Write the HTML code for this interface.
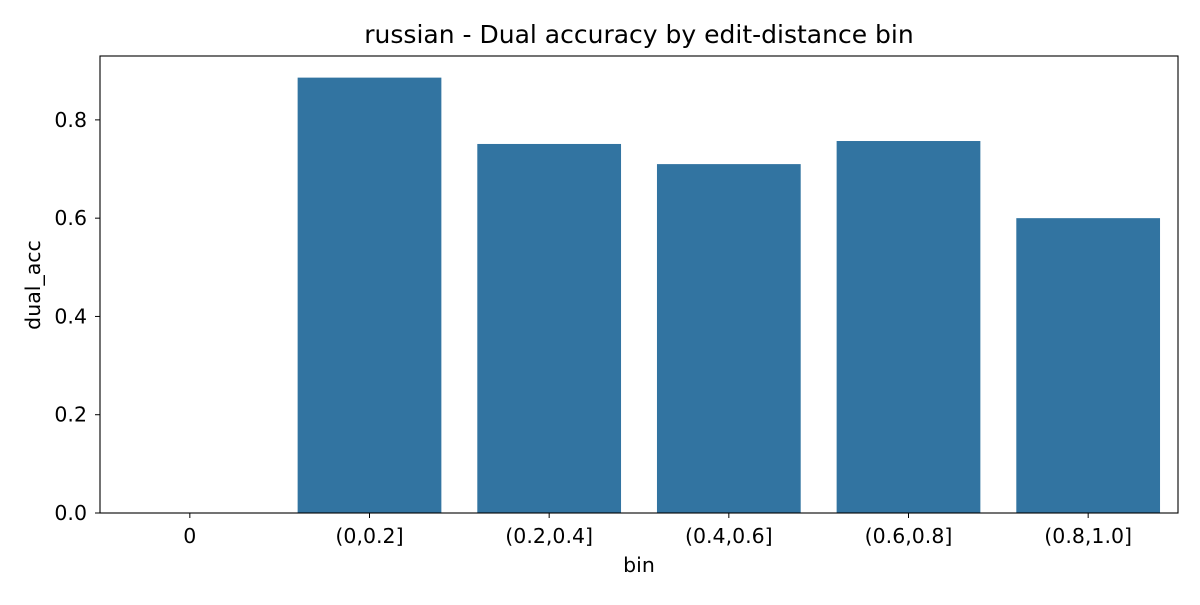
<!DOCTYPE html>
<html><head><meta charset="utf-8"><style>
body{margin:0;background:#fff;}
svg text{font-family:"DejaVu Sans","Liberation Sans",sans-serif;fill:#000;}
</style></head><body>
<svg id="chart" width="1200" height="600">
<text x="639" y="43" font-size="25" text-anchor="middle">russian - Dual accuracy by edit-distance bin</text>
<g id="bars"></g>
<g id="axes"></g>
<text x="639" y="572" font-size="20.5" text-anchor="middle">bin</text>
<text transform="translate(40,285) rotate(-90)" font-size="20.5" text-anchor="middle">dual_acc</text>
</svg>
<script>
const categories = ["0","(0,0.2]","(0.2,0.4]","(0.4,0.6]","(0.6,0.8]","(0.8,1.0]"];
const values = [0, 0.886, 0.751, 0.710, 0.757, 0.600];
const yTicks = [0, 0.2, 0.4, 0.6, 0.8];
const yTickLabels = ["0.0","0.2","0.4","0.6","0.8"];
const yMax = 0.93;

const L=100,R=1178,T=56,B=513;
const ns="http://www.w3.org/2000/svg";
const band=(R-L)/categories.length;
function xCenter(i){return L+band*(i+0.5);}
function y(v){return B-(B-T)*v/yMax;}
function mk(tag,attrs,parent){const e=document.createElementNS(ns,tag);for(const k in attrs)e.setAttribute(k,attrs[k]);parent.appendChild(e);return e;}
const bars=document.getElementById('bars'), axes=document.getElementById('axes');
values.forEach((v,i)=>{
  const w=band*0.8;
  const r=mk('rect',{x:xCenter(i)-w/2,y:y(v),width:w,height:B-y(v),fill:'#3274a1'},bars);
  
  
});
const frame=mk('rect',{x:L,y:T,width:R-L,height:B-T,fill:'none',stroke:'#000','stroke-width':1.1},axes);


categories.forEach((c,i)=>{
  mk('line',{x1:xCenter(i),x2:xCenter(i),y1:B,y2:B+5,stroke:'#000'},axes);
  const t=mk('text',{x:xCenter(i),y:B+30,'font-size':20.5,'text-anchor':'middle'},axes);
  t.textContent=c;
  
  
});
yTicks.forEach((v,i)=>{
  mk('line',{x1:L-5,x2:L,y1:y(v),y2:y(v),stroke:'#000'},axes);
  const t=mk('text',{x:L-13,y:y(v)+7,'font-size':20.5,'text-anchor':'end'},axes);
  t.textContent=yTickLabels[i];
  
  
});
</script>
</body></html>
